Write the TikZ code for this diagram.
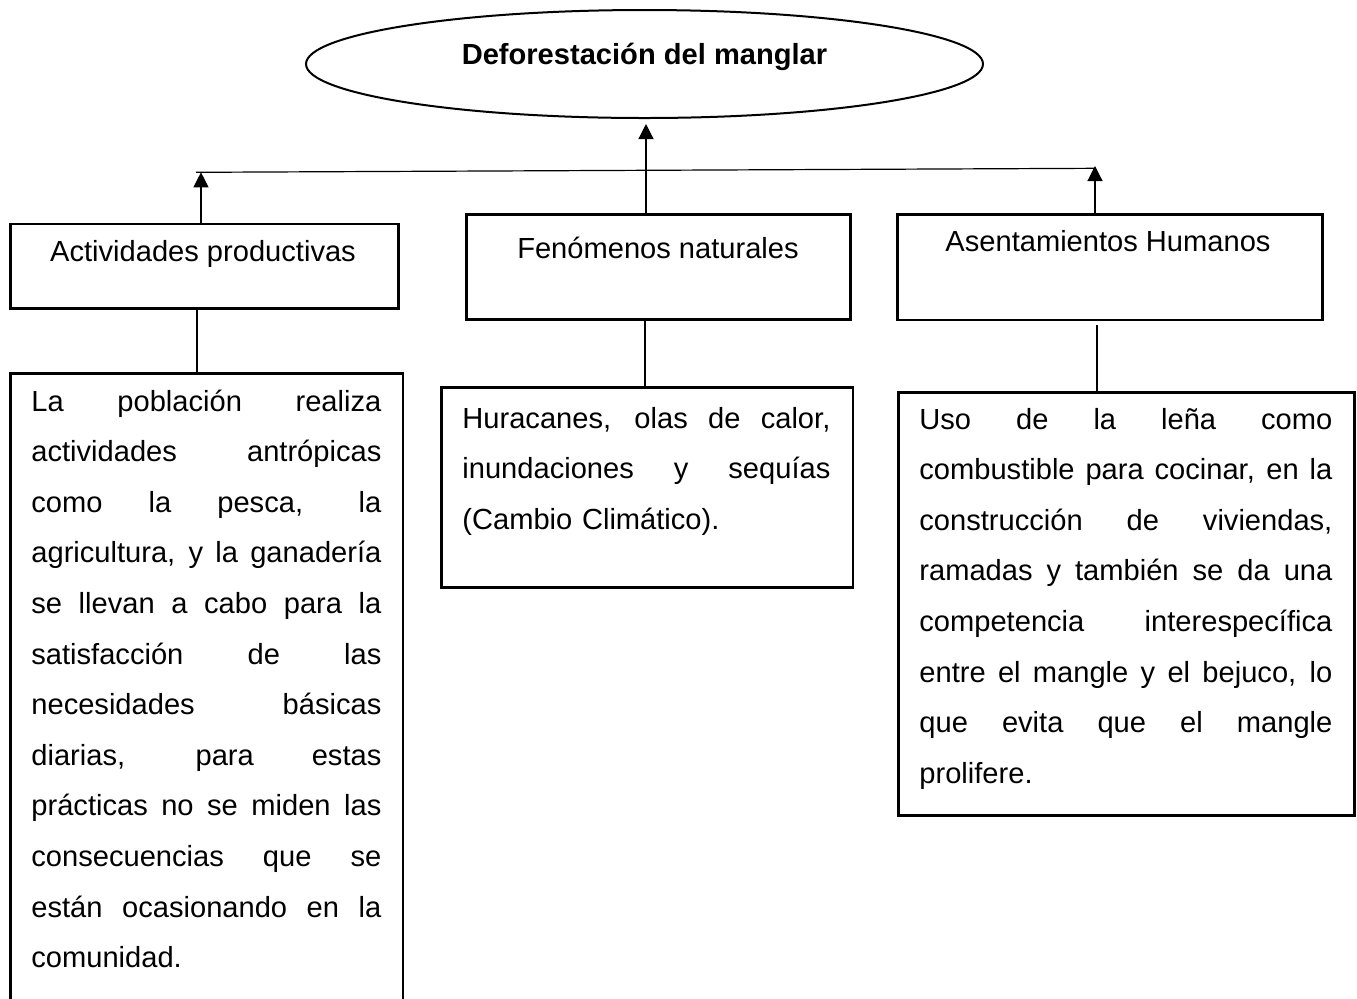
\documentclass[tikz,border=0pt]{standalone}
\usepackage{fontspec}
\setmainfont{Liberation Sans}
\usetikzlibrary{shapes.geometric,arrows.meta}
\newcommand{\jl}[1]{\leavevmode\hbox to \hsize{\spaceskip=0.278em plus 1fil\xspaceskip=0.278em plus 1fil\relax #1}\par}
\begin{document}
\begin{tikzpicture}[x=0.5pt,y=-0.5pt,
  box/.style={draw,line width=1.3pt,rectangle,inner sep=0pt,anchor=north west},
  conn/.style={line width=0.6pt},
  arr/.style={line width=0.6pt,-{Triangle[width=7.5pt,length=7.5pt]}},
  ttl/.style={inner sep=0pt,anchor=base,font=\fontsize{14.55}{17}\selectfont},
  body/.style={inner sep=0pt,anchor=base west,font=\fontsize{14.55}{25.3}\selectfont}]
\clip (0,0) rectangle (1357,998);
% top ellipse
\node[draw,ellipse,line width=1pt,inner sep=0pt,minimum width=338.5pt,minimum height=54pt] (e) at (644.5,64) {};
\node[ttl,font=\fontsize{14.55}{17}\selectfont\bfseries] (et) at (644.5,64) {Deforestación del manglar};
% level boxes
\node[box,minimum width=194pt,minimum height=42.25pt] (b1) at (9,222.5) {};
\node[box,minimum width=192pt,minimum height=52.5pt] (b2) at (465,213) {};
\node[box,minimum width=212.5pt,minimum height=52.75pt] (b3) at (896,213) {};
\node[ttl] (b1t) at (203,261.5) {Actividades productivas};
\node[ttl] (b2t) at (658,258) {Fenómenos naturales};
\node[ttl] (b3t) at (1108,251.5) {Asentamientos Humanos};
% detail boxes
\node[box,minimum width=196.25pt,minimum height=319pt] (d1) at (9,372) {};
\node[box,minimum width=205.75pt,minimum height=100pt] (d2) at (440,386) {};
\node[box,minimum width=228pt,minimum height=211.5pt] (d3) at (897,391) {};
\node[body,text width=175pt] (d1t) at (31,411) {%
\jl{La población realiza}
\jl{actividades antrópicas}
\jl{como la pesca, la}
\jl{agricultura, y la ganadería}
\jl{se llevan a cabo para la}
\jl{satisfacción de las}
\jl{necesidades básicas}
\jl{diarias, para estas}
\jl{prácticas no se miden las}
\jl{consecuencias que se}
\jl{están ocasionando en la}
comunidad.};
\node[body,text width=184pt] (d2t) at (462,428) {%
\jl{Huracanes, olas de calor,}
\jl{inundaciones y sequías}
(Cambio Climático).};
\node[body,text width=206.5pt] (d3t) at (919,429) {%
\jl{Uso de la leña como}
\jl{combustible para cocinar, en la}
\jl{construcción de viviendas,}
\jl{ramadas y también se da una}
\jl{competencia interespecífica}
\jl{entre el mangle y el bejuco, lo}
\jl{que evita que el mangle}
prolifere.};
% connector coordinates
\coordinate (t1) at (201,172.3);
\coordinate (t2) at (646,124);
\coordinate (t3) at (1095,166);
\coordinate (h1) at (196,172.3);
\coordinate (h3) at (1095,168.3);
\coordinate (c1) at (197,0);
\coordinate (c2) at (645,0);
\coordinate (g3) at (1097,325);
% connectors
\draw[conn] (h1) -- (h3);
\draw[arr] (t1 |- b1.north) -- (t1);
\draw[arr] (t2 |- b2.north) -- (t2);
\draw[arr] (t3 |- b3.north) -- (t3);
\draw[conn] (c1 |- b1.south) -- (c1 |- d1.north);
\draw[conn] (c2 |- b2.south) -- (c2 |- d2.north);
\draw[conn] (g3) -- (g3 |- d3.north);
\end{tikzpicture}
\end{document}
